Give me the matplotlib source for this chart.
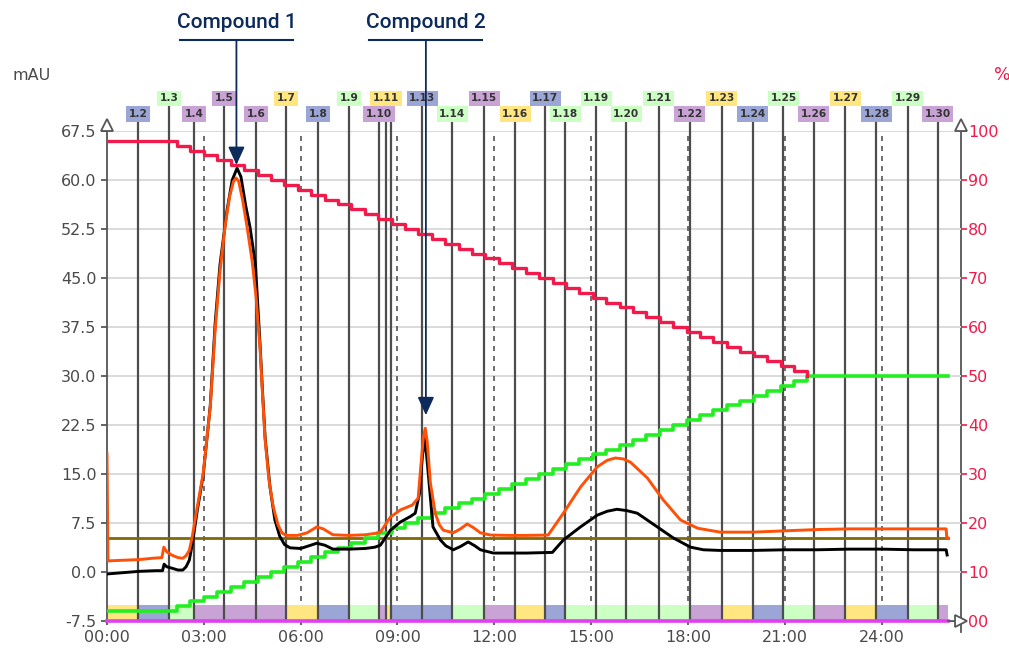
import numpy as np
import matplotlib
matplotlib.use("Agg")
import matplotlib.pyplot as plt
from matplotlib.lines import Line2D
from matplotlib.transforms import blended_transform_factory

# chromatogram traces (time in minutes, absorbance in mAU)
uv1_time = [0.0, 0.03, 0.5, 1.0, 1.4, 1.7, 1.76, 1.85, 2.0, 2.2, 2.35, 2.45, 2.55, 2.63,
            2.8, 2.98, 3.2, 3.35, 3.5, 3.66, 3.8, 3.92, 4.0, 4.08, 4.2, 4.34, 4.5, 4.62,
            4.74, 4.82, 4.9, 5.02, 5.15, 5.3, 5.42, 5.55, 5.9, 6.2, 6.5, 6.7, 7.0, 7.5,
            8.0, 8.3, 8.47, 8.78, 9.09, 9.46, 9.64, 9.72, 9.8, 9.86, 9.92, 10.02, 10.17,
            10.3, 10.42, 10.73, 10.95, 11.16, 11.35, 11.57, 11.88, 12.5, 13.0, 13.67,
            14.14, 14.67, 15.19, 15.5, 15.75, 16.0, 16.22, 16.74, 17.24, 17.77, 18.3,
            19.0, 20.0, 21.0, 22.0, 23.0, 24.0, 25.0, 26.0, 26.02, 26.05]
uv1_mau = [18.1, 1.7, 1.8, 1.9, 2.1, 2.2, 3.8, 3.1, 2.6, 2.2, 2.1, 2.5, 3.3, 5.1,
           10.0, 15.1, 25.3, 37.0, 46.0, 53.0, 57.5, 59.8, 60.3, 59.8, 57.0, 52.8, 47.5, 42.0,
           34.4, 27.0, 20.2, 14.0, 10.0, 7.2, 6.0, 5.6, 5.6, 6.0, 6.9, 6.6, 5.7, 5.6,
           5.7, 5.9, 6.1, 8.4, 9.5, 10.25, 11.3, 16.0, 20.5, 22.0, 20.0, 13.6, 9.0,
           7.2, 6.4, 6.0, 6.6, 7.35, 6.8, 6.0, 5.66, 5.6, 5.6, 5.66,
           9.0, 13.0, 16.1, 17.1, 17.45, 17.3, 16.8, 14.4, 11.0, 7.96, 6.7,
           6.1, 6.1, 6.3, 6.5, 6.6, 6.6, 6.6, 6.6, 5.2, 5.2]

uv2_time = [0.0, 0.5, 1.0, 1.5, 1.72, 1.77, 1.85, 2.0, 2.2, 2.35, 2.45, 2.55, 2.65, 2.8,
            2.98, 3.2, 3.35, 3.5, 3.72, 3.88, 4.03, 4.15, 4.3, 4.43, 4.6, 4.74, 4.82, 4.9,
            5.05, 5.2, 5.35, 5.5, 5.67, 6.0, 6.25, 6.5, 6.75, 7.0, 7.5, 8.0, 8.3, 8.47,
            8.78, 9.09, 9.4, 9.55, 9.68, 9.76, 9.83, 9.9, 9.98, 10.1, 10.33, 10.5, 10.73,
            10.95, 11.19, 11.4, 11.57, 11.97, 12.5, 13.0, 13.8, 14.14, 14.67, 15.19, 15.5,
            15.8, 16.1, 16.43, 17.05, 17.55, 18.08, 18.48, 19.0, 20.0, 21.0, 22.0, 23.0,
            24.0, 25.0, 26.0, 26.03]
uv2_mau = [-0.3, -0.1, 0.1, 0.2, 0.2, 1.2, 0.8, 0.6, 0.3, 0.3, 0.8, 1.8, 4.5, 9.5,
           14.8, 25.5, 38.0, 47.0, 55.4, 60.0, 61.8, 60.5, 56.0, 52.8, 47.0, 35.0, 27.5, 20.5,
           13.0, 8.0, 5.5, 4.2, 3.7, 3.6, 4.0, 4.4, 4.1, 3.5, 3.5, 3.6, 3.8, 4.1,
           6.4, 7.65, 8.5, 9.0, 12.0, 17.0, 20.5, 18.0, 13.6, 6.9, 4.9, 4.0, 3.4,
           3.9, 4.6, 4.0, 3.4, 2.9, 2.9, 2.9, 3.0, 4.9, 6.9, 8.7, 9.3,
           9.6, 9.4, 9.0, 6.9, 5.2, 3.8, 3.4, 3.3, 3.3, 3.4, 3.4, 3.5,
           3.5, 3.4, 3.4, 2.6]

# gradient program (%B), shown by the instrument in 1 % steps
grad_start_min, grad_end_min = 2.17, 21.7
grad_start_pct, grad_end_pct = 2, 50
run_end_min = 26.05
threshold_mau = 5.15

# fractions: start time (min), label, tube colour
frac_start = [0.0, 0.96, 1.92, 2.70, 3.63, 4.62, 5.55, 6.54, 7.50, 8.43, 8.65, 8.81,
              9.77, 10.70, 11.69, 12.65, 13.58, 14.20, 15.16, 16.09, 17.09, 18.05,
              19.04, 20.00, 20.96, 21.89, 22.88, 23.84, 24.81, 25.74]
frac_names = ["1.%d" % i for i in range(1, 31)]
frac_hidden = ["1.1", "1.12"]
Y, B, G, P = "#ffe680", "#9ba5d6", "#ccffc4", "#c9a3d6"
frac_colors = [Y, B, G, P, P, P, Y, B, G, P, Y, B, B, G, P, Y, B, G, G, G, G,
               P, Y, B, G, P, Y, B, G, P]

compounds = ["Compound 1", "Compound 2"]
compound_time = [4.01, 9.88]
compound_tip = [62.3, 24.0]

x_ticks = [0, 3, 6, 9, 12, 15, 18, 21, 24]
y_ticks = [-7.5, 0.0, 7.5, 15.0, 22.5, 30.0, 37.5, 45.0, 52.5, 60.0, 67.5]
pct_ticks = [0, 10, 20, 30, 40, 50, 60, 70, 80, 90, 100]

plt.rcParams["font.family"] = ["DejaVu Sans"]
fig = plt.figure(figsize=(10.09, 6.55), dpi=100)
ax = fig.add_axes([107 / 1009, 34 / 655, 854 / 1009, 490 / 655])
ax2 = ax.twinx()
ax.set_zorder(ax2.get_zorder() + 1)
ax.patch.set_visible(False)

xmax = 26.46
ax.set_xlim(0, xmax)
ax.set_ylim(-7.5, 67.5)
ax2.set_ylim(0, 100)

gray_txt = "#4a4a4a"
red = "#f21a4a"
ax.set_yticks(y_ticks)
ax.set_yticklabels(["%.1f" % v for v in y_ticks])
ax.set_xticks(x_ticks)
ax.set_xticklabels(["%02d:00" % v for v in x_ticks])
ax.tick_params(axis="both", labelsize=11.5, colors=gray_txt, length=4, width=1.2)
ax.tick_params(axis="x", length=3)
ax2.set_yticks(pct_ticks)
ax2.set_yticklabels(["%d" % v if v else "00" for v in pct_ticks])
ax2.tick_params(axis="y", labelsize=11.5, colors=red, length=4, width=1.2, pad=1)

ax.spines["top"].set_visible(False)
ax2.spines["top"].set_visible(False)
ax2.spines["left"].set_visible(False)
ax2.spines["bottom"].set_visible(False)
ax.spines["right"].set_visible(False)
ax.spines["left"].set_color("#555555")
ax.spines["left"].set_linewidth(1.3)
ax2.spines["right"].set_color("#555555")
ax2.spines["right"].set_linewidth(1.3)
ax.spines["bottom"].set_color("#555555")

# grid
for v in y_ticks:
    ax.axhline(v, color="#dadada", lw=1.4, zorder=0)
for v in x_ticks[1:]:
    ax.axvline(v, color="#555555", lw=1.2, ls=(0, (3, 3)), zorder=1)

# fraction tubes, lines and labels
frac_end = frac_start[1:] + [run_end_min]
for i, (s, e) in enumerate(zip(frac_start, frac_end)):
    ax.bar(s, 2.45, width=e - s, bottom=-7.5, align="edge", color=frac_colors[i],
           edgecolor="none", zorder=1)
    name = frac_names[i]
    if s == 0.0:
        continue
    odd = int(name.split(".")[1]) % 2 == 1
    top = 72.5 if odd else 70.1
    ax.plot([s, s], [-7.5, top], color="#4d4d4d", lw=1.6, zorder=1.5, clip_on=False)
    if name in frac_hidden:
        continue
    ax.text(s, top, name, ha="center", va="center", fontsize=7.6, fontweight="bold",
            color="#333333", zorder=6, clip_on=False,
            bbox=dict(boxstyle="square,pad=0.25", fc=frac_colors[i], ec="none"))

# threshold
ax.plot([0, run_end_min], [threshold_mau, threshold_mau], color="#7f6a08", lw=2, zorder=2)

# gradient staircase, drawn on the main axes in % units of the right axis
n_steps = grad_end_pct - grad_start_pct
step_t = np.linspace(grad_start_min, grad_end_min, n_steps)
t_stairs = np.concatenate([[0.0], step_t, [run_end_min]])
b_stairs = np.concatenate([[grad_start_pct], grad_start_pct + np.arange(1, n_steps + 1),
                           [grad_end_pct]])
ax.step(t_stairs, b_stairs, where="post", color="#22ee22", lw=2.6, zorder=3,
        transform=ax2.transData)
ax.step(t_stairs[:-1], 100 - b_stairs[:-1], where="post", color=red, lw=2.4, zorder=3,
        transform=ax2.transData)
ax.plot(uv2_time, uv2_mau, color="black", lw=2.1, zorder=4)
ax.plot(uv1_time, uv1_mau, color="#ff5008", lw=2.1, zorder=5)
ax.plot([0, run_end_min], [-7.5, -7.5], color="#e040f0", lw=2.6, zorder=5, clip_on=False)
ax.plot([run_end_min, xmax], [-7.5, -7.5], color="#555555", lw=1.2, zorder=5, clip_on=False)

# axis arrows
ax.plot([0], [68.4], marker="^", ms=9, mfc="white", mec="#555555", mew=1.3, clip_on=False, zorder=6)
ax.plot([xmax], [68.4], marker="^", ms=9, mfc="white", mec="#555555", mew=1.3, clip_on=False, zorder=6)
ax.plot([xmax], [-7.5], marker=">", ms=8, mfc="white", mec="#555555", mew=1.3, clip_on=False, zorder=6)
ax.plot([xmax, xmax], [-7.5, -9.2], color="#555555", lw=1.3, clip_on=False)

fig.text(13 / 1009, 1 - 75 / 655, "mAU", fontsize=11.5, color=gray_txt, va="center")
fig.text(994 / 1009, 1 - 75 / 655, "%", fontsize=12.5, color=red, va="center")

# compound annotations
navy = "#0c2a5a"
xfig = blended_transform_factory(ax.transData, fig.transFigure)
for name, t, tip in zip(compounds, compound_time, compound_tip):
    fig.text(t, 0.965, name, transform=xfig, ha="center", va="center",
             fontsize=15, color=navy, family=["Roboto", "DejaVu Sans"], fontweight="medium")
    fig.add_artist(Line2D([t - 1.75, t + 1.75], [0.939, 0.939], color=navy, lw=1.5,
                          transform=xfig))
    ax.annotate("", xy=(t, tip), xycoords="data", xytext=(t, 0.939),
                textcoords=("data", "figure fraction"),
                arrowprops=dict(arrowstyle="-|>,head_length=0.55,head_width=0.25",
                                color=navy, lw=1.3, mutation_scale=20, shrinkA=0, shrinkB=0),
                zorder=7, annotation_clip=False)

fig.savefig("out.png", dpi=100)
